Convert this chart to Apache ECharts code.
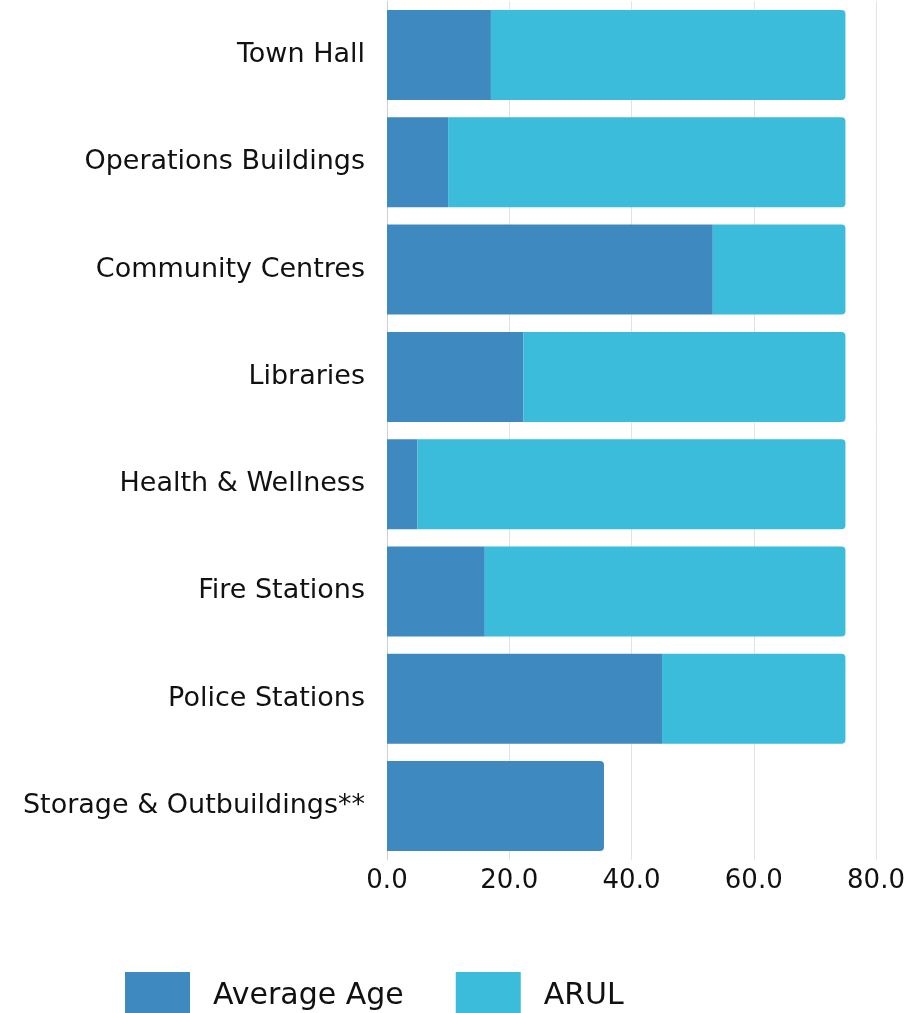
<!DOCTYPE html>
<html><head><meta charset="utf-8">
<script src="https://cdn.jsdelivr.net/npm/echarts@6/dist/echarts.min.js"></script>
<style>html,body{margin:0;padding:0;background:#fff}#c{width:909px;height:1013px}</style>
</head><body><div id="c"></div>
<script>
const categories = ["Town Hall","Operations Buildings","Community Centres","Libraries","Health & Wellness","Fire Stations","Police Stations","Storage & Outbuildings**"];
const averageAge = [17, 10, 53.3, 22.3, 5, 16, 45, 35.5];
const arul = [58, 65, 21.7, 52.7, 70, 59, 30, 0];
const xTicks = [0, 20, 40, 60, 80];

const FONT = '"DejaVu Sans"';
const chart = echarts.init(document.getElementById('c'), null, {renderer:'canvas'});
chart.setOption({
  animation:false,
  color:['#3f89c1','#3bbcdb'],
  grid:{left:387, right:33, top:1.4, height:858.3},
  legend:{
    left:120, top:967, itemWidth:65, itemHeight:48, itemGap:52,
    icon:'rect',
    textStyle:{fontFamily:FONT, fontSize:30, color:'#111', padding:[0,0,0,18]},
    data:['Average Age','ARUL']
  },
  xAxis:{
    type:'value', min:xTicks[0], max:xTicks[xTicks.length-1], interval:20,
    axisLine:{show:false}, axisTick:{show:false},
    splitLine:{lineStyle:{color:'#e3e3e3', width:1}},
    axisLabel:{fontFamily:FONT, fontSize:26, color:'#111', margin:9, formatter:v=>v.toFixed(1)}
  },
  yAxis:{
    type:'category', inverse:true, data:categories,
    axisLine:{show:true, lineStyle:{color:'#cfcfcf'}}, axisTick:{show:false},
    axisLabel:{fontFamily:FONT, fontSize:27, color:'#111', margin:22}
  },
  series:[
    {name:'Average Age', type:'bar', stack:'t', barWidth:90,
     data: averageAge.map((v,i)=>({value:v, itemStyle:{borderRadius: arul[i]===0?[0,4,4,0]:0}}))},
    {name:'ARUL', type:'bar', stack:'t', barWidth:90,
     itemStyle:{borderRadius:[0,4,4,0]},
     data: arul}
  ]
});
</script></body></html>
